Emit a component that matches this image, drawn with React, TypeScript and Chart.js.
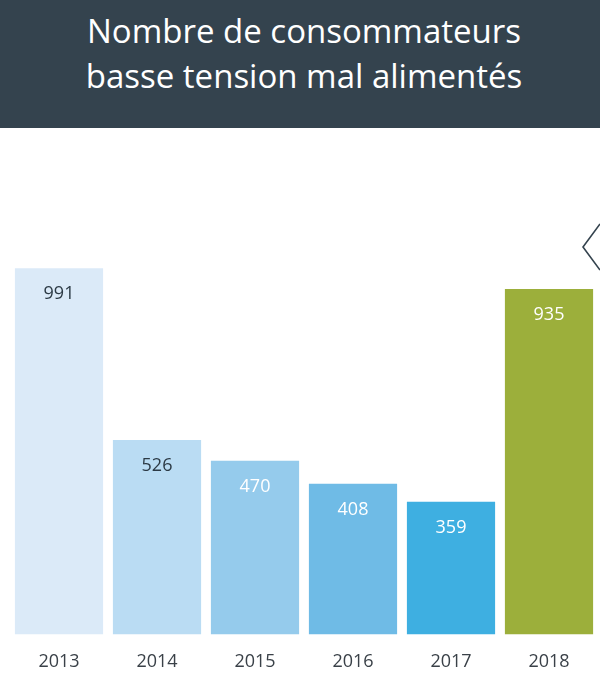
import { useEffect, useRef } from "react";
import { Chart, registerables } from "chart.js";

Chart.register(...registerables);

const years = ["2013", "2014", "2015", "2016", "2017", "2018"];
const consumers = [991, 526, 470, 408, 359, 935];
const barColors = ["#dbeaf8", "#badcf3", "#95cbec", "#6fbbe6", "#3eafe1", "#9caf3b"];
const labelColors = ["#2c3a45", "#2c3a45", "#ffffff", "#ffffff", "#ffffff", "#ffffff"];
const titleLines = ["Nombre de consommateurs", "basse tension mal alimentés"];

const SLATE = "#34434e";
const FONT = "'Open Sans', sans-serif";

const App = () => {
  const canvasRef = useRef<HTMLCanvasElement>(null);
  const chartRef = useRef<Chart | null>(null);

  useEffect(() => {
    document.body.style.margin = "0";
    if (!canvasRef.current) return;
    if (chartRef.current) chartRef.current.destroy();

    // valeurs écrites dans le haut de chaque barre
    const valueLabels = {
      id: "valueLabels",
      afterDatasetsDraw(chart: Chart) {
        const { ctx } = chart;
        const meta = chart.getDatasetMeta(0);
        ctx.save();
        ctx.font = `18px ${FONT}`;
        ctx.textAlign = "center";
        ctx.textBaseline = "middle";
        meta.data.forEach((bar: any, i) => {
          ctx.fillStyle = labelColors[i];
          ctx.fillText(String(consumers[i]), bar.x, bar.y + 26);
        });
        ctx.restore();
      },
    };

    // petit chevron de navigation à droite
    const chevron = {
      id: "chevron",
      afterDraw(chart: Chart) {
        const { ctx, width } = chart;
        ctx.save();
        ctx.strokeStyle = SLATE;
        ctx.lineWidth = 1.6;
        ctx.beginPath();
        ctx.moveTo(width, 96);
        ctx.lineTo(width - 17, 119);
        ctx.lineTo(width, 142);
        ctx.stroke();
        ctx.restore();
      },
    };

    chartRef.current = new Chart(canvasRef.current, {
      type: "bar",
      data: {
        labels: years,
        datasets: [
          {
            data: consumers,
            backgroundColor: barColors,
            barPercentage: 0.9,
            categoryPercentage: 1,
          },
        ],
      },
      options: {
        animation: false,
        responsive: true,
        maintainAspectRatio: false,
        layout: { padding: { top: 137, left: 10, right: 2, bottom: 0 } },
        scales: {
          x: {
            grid: { display: false },
            border: { display: false },
            ticks: { color: "#3a4148", font: { family: FONT, size: 18 }, padding: 9 },
          },
          y: { display: false, min: 0, max: 1000 },
        },
        plugins: { legend: { display: false }, tooltip: { enabled: false } },
      },
      plugins: [valueLabels, chevron],
    });

    return () => {
      chartRef.current?.destroy();
      chartRef.current = null;
    };
  }, []);

  return (
    <div style={{ width: 600, height: 682, background: "#ffffff", position: "relative", overflow: "hidden" }}>
      <div
        style={{
          height: 128,
          background: SLATE,
          color: "#ffffff",
          fontFamily: FONT,
          fontSize: 33,
          lineHeight: "45px",
          textAlign: "center",
          paddingTop: 8,
          paddingLeft: 8,
          boxSizing: "border-box",
        }}
      >
        {titleLines.map((t) => (
          <div key={t}>{t}</div>
        ))}
      </div>
      <div style={{ position: "relative", height: 554 }}>
        <canvas ref={canvasRef}></canvas>
      </div>
    </div>
  );
};

export default App;
